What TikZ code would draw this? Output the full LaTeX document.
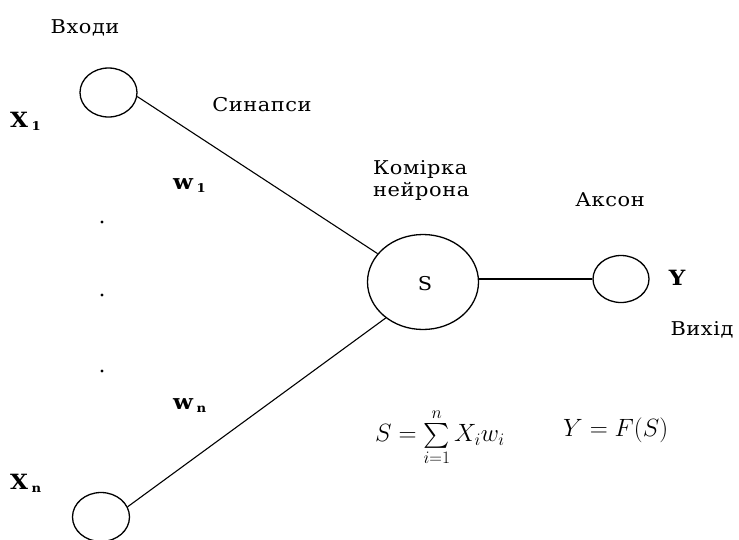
\RequirePackage{fix-cm}
\documentclass[tikz,border=0pt]{standalone}
\usepackage{amsmath}
\usepackage{fontspec}
\setmainfont{DejaVu Serif}[FakeStretch=1.1, LetterSpace=3]
\usetikzlibrary{shapes.geometric}
\tikzset{
  cell/.style={draw, ellipse, line width=1.3pt, inner sep=0pt},
  small/.style={cell, minimum width=57pt, minimum height=49pt},
  big/.style={cell, minimum width=111pt, minimum height=95pt},
  lbl/.style={inner sep=0pt, font=\fontsize{19}{22}\selectfont},
  blbl/.style={inner sep=0pt, font=\fontsize{21}{24}\selectfont\bfseries},
  link/.style={line width=1.1pt},
  dotm/.style={fill, circle, inner sep=0pt, minimum size=3.4pt},
  formula/.style={inner sep=0pt, anchor=west, font=\fontsize{25}{29}\selectfont}
}
\newcommand{\subsc}[1]{\raisebox{-3pt}{\fontsize{12}{12}\selectfont #1}}
\begin{document}
\begin{tikzpicture}[x=1pt, y=-1pt]
\useasboundingbox (0,0) rectangle (739,539);
% cells
\node[small] (x1) at (108.5,92.5) {};
\node[small] (xn) at (101,517) {};
\node[big] (s) at (423,282) {};
\node[small, minimum width=56pt, minimum height=47pt] (y) at (621,279) {};
\node[lbl] (stxt) at (425,284) {S};
% connectors
\draw[link] (x1.-8) -- (s.148);
\draw[link] (xn.21) -- (s.-136);
\draw[link] (y.west -| s.east) -- (y.west);
% labels
\node[lbl] (inputs) at (85,28) {Входи};
\node[blbl, anchor=west] (x1lbl) at (10,121) {X\,\subsc{1}};
\node[lbl] (syn) at (262,105) {Синапси};
\node[blbl, anchor=west] (w1) at (173,186) {w\,\subsc{1}};
\node[lbl, align=left, anchor=west] (cell) at (373,180) {Комірка\\нейрона};
\node[lbl] (axon) at (610,200) {Аксон};
\node[blbl] (ylbl) at (677,278) {Y};
\node[lbl] (out) at (702,330) {Вихід};
\node[blbl, anchor=west] (wn) at (173,406) {w\,\subsc{n}};
\node[blbl, anchor=west] (xnlbl) at (10,483) {X\,\subsc{n}};
\node[dotm] (d1) at (102,222) {};
\node[dotm] (d2) at (102,295) {};
\node[dotm] (d3) at (102,371) {};
% formulas
\node[formula] (f1) at (375,437) {$S=\sum\limits_{i=1}^{n}X_i w_i$};
\node[formula] (f2) at (563,430) {$Y=F(S)$};
\end{tikzpicture}
\end{document}
